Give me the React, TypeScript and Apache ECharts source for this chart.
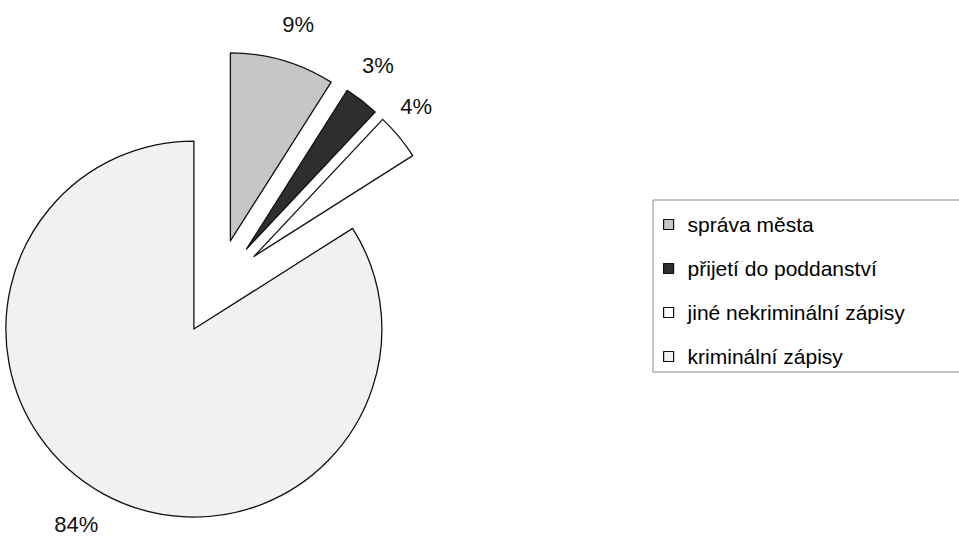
import React, { useEffect, useRef } from 'react';
import * as echarts from 'echarts';

const categories = ['správa města', 'přijetí do poddanství', 'jiné nekriminální zápisy', 'kriminální zápisy'];
const values = [9, 3, 4, 84];
const colors = ['#c6c6c6', '#2e2e2e', '#ffffff', '#f1f1f1'];
// label placement tuning per slice (distance beyond the arc, gap to the text)
const labelLengths = [37, 44.5, 46.5, 34.5];
const labelGaps = [5, -11, -18.5, 10.5];

export default function App() {
  const ref = useRef<HTMLDivElement>(null);
  useEffect(() => {
    const chart = echarts.init(ref.current!, null, { renderer: 'svg' });
    chart.setOption({
      animation: false,
      backgroundColor: '#ffffff',
      legend: {
        orient: 'vertical',
        left: 653,
        top: 200,
        selectedMode: false,
        icon: 'rect',
        itemWidth: 10,
        itemHeight: 10,
        itemGap: 23,
        borderColor: '#8a8a8a',
        borderWidth: 1,
        padding: [14, 120, 5, 10],
        textStyle: {
          fontFamily: 'Liberation Sans, Arial, sans-serif',
          fontSize: 21,
          lineHeight: 21,
          color: '#000',
          padding: [0, 0, 0, 9],
        },
        itemStyle: { borderColor: '#111', borderWidth: 1.2 },
        data: categories,
      },
      series: [
        {
          type: 'pie',
          center: [217, 287],
          radius: 188,
          startAngle: 90,
          clockwise: true,
          selectedMode: 'multiple',
          selectedOffset: 48,
          avoidLabelOverlap: false,
          data: categories.map((name, i) => ({
            name,
            value: values[i],
            selected: true,
            itemStyle: { color: colors[i] },
            label: { distanceToLabelLine: labelGaps[i] },
            labelLine: { length: labelLengths[i], length2: 0 },
          })),
          label: {
            show: true,
            position: 'outside',
            formatter: '{c}%',
            fontFamily: 'Liberation Sans, Arial, sans-serif',
            fontSize: 22,
            lineHeight: 17,
            color: '#111',
          },
          labelLine: { show: false, length: 40, length2: 0 },
          labelLayout: { align: 'center' },
          itemStyle: { borderColor: '#111', borderWidth: 1.3 },
          emphasis: { disabled: true },
          select: { itemStyle: { borderColor: '#111', borderWidth: 1.3 } },
        },
      ],
    });
    return () => chart.dispose();
  }, []);
  return <div ref={ref} style={{ position: 'fixed', left: 0, top: 0, width: 959, height: 538 }} />;
}
